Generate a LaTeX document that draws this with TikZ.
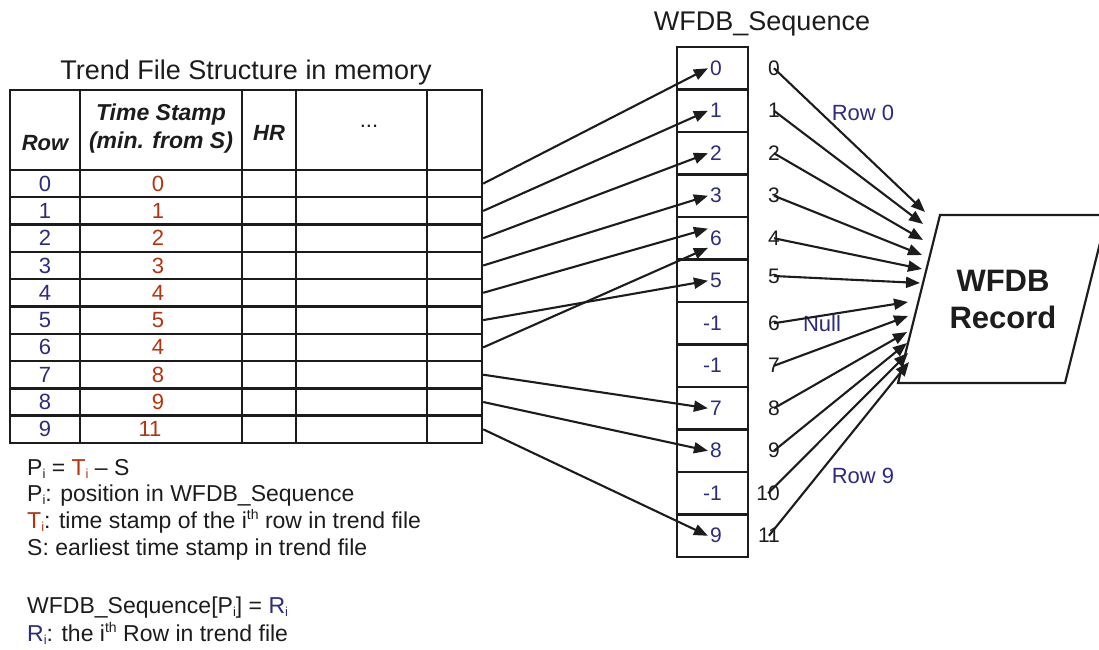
\documentclass[tikz,border=0pt]{standalone}
\usepackage{fontspec}
\setmainfont{Liberation Sans}
\usepackage{xcolor}
\usepackage{tikz}
\usetikzlibrary{arrows.meta,calc,positioning}
\definecolor{ink}{HTML}{1C1C1C}
\definecolor{navy}{HTML}{2B2B80}
\definecolor{rust}{HTML}{B5340F}
\newcommand{\subi}{\raisebox{-0.3ex}{\fontsize{13}{13}\selectfont i}}
\newcommand{\supth}{\raisebox{0.7ex}{\fontsize{14}{14}\selectfont th}}

\begin{document}
\begin{tikzpicture}[x=1pt,y=-1pt,>={Triangle[length=14pt,width=11pt]},color=ink,
  rowbox/.style={draw,line width=2.4pt,minimum width=472pt,minimum height=27.3pt,inner sep=0pt},
  rownum/.style={text=navy,font=\fontsize{22}{26}\selectfont},
  stamp/.style={text=rust,font=\fontsize{22}{26}\selectfont},
  seqcell/.style={draw,line width=2.2pt,minimum width=71pt,minimum height=42.5pt,inner sep=0pt},
  seqval/.style={anchor=east,text=navy,inner sep=2pt,font=\fontsize{21}{25}\selectfont},
  idx/.style={anchor=east,inner sep=1pt,font=\fontsize{21}{25}\selectfont},
  note/.style={anchor=base west,inner sep=0pt,font=\fontsize{23}{27}\selectfont},
  link/.style={->,line width=2.1pt}]
\useasboundingbox (0,0) rectangle (1099,649);

% trend file table
\node[font=\fontsize{27}{32}\selectfont] (trendtitle) at (246,73) {Trend File Structure in memory};
\node[draw,line width=2.4pt,minimum width=472pt,minimum height=80pt,inner sep=0pt] (head) at (246,130) {};
\node[font=\bfseries\itshape\fontsize{22}{26}\selectfont] (hrow) at (45,143) {Row};
\node[font=\bfseries\itshape\fontsize{23}{28}\selectfont,align=center] (hstamp) at (161,129) {Time Stamp\\(min. from S)};
\node[font=\bfseries\itshape\fontsize{22}{26}\selectfont] (hhr) at (269,133) {HR};
\node[font=\fontsize{22}{26}\selectfont] (hdots) at (369,126) {...};
\node[rowbox] (r0) at (246,183.6) {};
\node[rowbox] (r1) at (246,210.9) {};
\node[rowbox] (r2) at (246,238.2) {};
\node[rowbox] (r3) at (246,265.5) {};
\node[rowbox] (r4) at (246,292.8) {};
\node[rowbox] (r5) at (246,320.1) {};
\node[rowbox] (r6) at (246,347.4) {};
\node[rowbox] (r7) at (246,374.7) {};
\node[rowbox] (r8) at (246,402.0) {};
\node[rowbox] (r9) at (246,429.3) {};
\draw[line width=2.4pt] (80,90) -- (80,443) (242,90) -- (242,443) (296,90) -- (296,443) (427,90) -- (427,443);
\node[rownum] at (45,183.6) {0};  \node[stamp] at (158,183.6) {0};
\node[rownum] at (45,210.9) {1};  \node[stamp] at (158,210.9) {1};
\node[rownum] at (45,238.2) {2};  \node[stamp] at (158,238.2) {2};
\node[rownum] at (45,265.5) {3};  \node[stamp] at (158,265.5) {3};
\node[rownum] at (45,292.8) {4};  \node[stamp] at (158,292.8) {4};
\node[rownum] at (45,320.1) {5};  \node[stamp] at (158,320.1) {5};
\node[rownum] at (45,347.4) {6};  \node[stamp] at (158,347.4) {4};
\node[rownum] at (45,374.7) {7};  \node[stamp] at (158,374.7) {8};
\node[rownum] at (45,402.0) {8};  \node[stamp] at (158,402.0) {9};
\node[rownum] at (45,429.3) {9};  \node[stamp] at (150,429.3) {11};

% sequence column
\node[font=\fontsize{27}{32}\selectfont] (seqtitle) at (762,24) {WFDB\_Sequence};
\node[seqcell] (c0) at (712.5,68.25) {};   \node[seqval] (v0) at (724,68.25) {0};   \node[idx] (i0) at (781,68.25) {0};
\node[seqcell] (c1) at (712.5,110.75) {};  \node[seqval] (v1) at (724,110.75) {1};  \node[idx] (i1) at (781,110.75) {1};
\node[seqcell] (c2) at (712.5,153.25) {};  \node[seqval] (v2) at (724,153.25) {2};  \node[idx] (i2) at (781,153.25) {2};
\node[seqcell] (c3) at (712.5,195.75) {};  \node[seqval] (v3) at (724,195.75) {3};  \node[idx] (i3) at (781,195.75) {3};
\node[seqcell] (c4) at (712.5,238.25) {};  \node[seqval] (v4) at (724,238.25) {6};  \node[idx] (i4) at (781,238.25) {4};
\node[seqcell] (c5) at (712.5,280.75) {};  \node[seqval] (v5) at (724,280.75) {5};  \node[idx] (i5) at (781,276) {5};
\node[seqcell] (c6) at (712.5,323.25) {};  \node[seqval] (v6) at (724,323.25) {-1}; \node[idx] (i6) at (781,323.25) {6};
\node[seqcell] (c7) at (712.5,365.75) {};  \node[seqval] (v7) at (724,365.75) {-1}; \node[idx] (i7) at (781,365.75) {7};
\node[seqcell] (c8) at (712.5,408.25) {};  \node[seqval] (v8) at (724,408.25) {7};  \node[idx] (i8) at (781,408.25) {8};
\node[seqcell] (c9) at (712.5,450.75) {};  \node[seqval] (v9) at (724,450.75) {8};  \node[idx] (i9) at (781,450.75) {9};
\node[seqcell] (c10) at (712.5,493.25) {}; \node[seqval] (v10) at (724,493.25) {-1}; \node[idx] (i10) at (781,493.25) {10};
\node[seqcell] (c11) at (712.5,535.75) {}; \node[seqval] (v11) at (724,535.75) {9};  \node[idx] (i11) at (781,535.75) {11};

% record
\draw[line width=2.2pt] (898,383) -- (940,215) -- (1107,215) -- (1065,383) -- cycle;
\node[font=\bfseries\fontsize{31}{37}\selectfont,align=center] (rec) at (1003,299) {WFDB\\Record};
\coordinate (t0) at (925,212);
\coordinate (t1) at (923,224);
\coordinate (t2) at (923,240);
\coordinate (t3) at (922,255);
\coordinate (t4) at (922,269);
\coordinate (t5) at (920,283);
\coordinate (t6) at (908,302);
\coordinate (t7) at (908,316);
\coordinate (t8) at (907,332);
\coordinate (t9) at (907,343);
\coordinate (t10) at (908,353);
\coordinate (t11) at (909,362);
\node[text=navy,font=\fontsize{22}{26}\selectfont] (row0) at (863,113) {Row 0};
\node[text=navy,font=\fontsize{22}{26}\selectfont] (nulllbl) at (822,324) {Null};
\node[text=navy,font=\fontsize{22}{26}\selectfont] (row9) at (863,476) {Row 9};

% rows to sequence
\draw[link] (r0.east) -- (v0.west);
\draw[link] (r1.east) -- (v1.west);
\draw[link] (r2.east) -- (v2.west);
\draw[link] (r3.east) -- (v3.west);
\draw[link] (r4.east) -- (v4.north west);
\draw[link] (r5.east) -- (v5.west);
\draw[link] (r6.east) -- (v4.south west);
\draw[link] (r7.east) -- (v8.west);
\draw[link] (r8.east) -- (v9.west);
\draw[link] (r9.east) -- (v11.west);

% sequence to record
\draw[link] (i0.center) -- (t0);
\draw[link] (i1.center) -- (t1);
\draw[link] (i2.center) -- (t2);
\draw[link] (i3.center) -- (t3);
\draw[link] (i4.center) -- (t4);
\draw[link] (i5.center) -- (t5);
\draw[link] (i6.center) -- (t6);
\draw[link] (i7.center) -- (t7);
\draw[link] (i8.center) -- (t8);
\draw[link] (i9.center) -- (t9);
\draw[link] (i10.center) -- (t10);
\draw[link] (i11.center) -- (t11);

% notes
\node[note] (n1) at (27,475) {P\subi{} = \textcolor{rust}{T\subi} -- S};
\node[note] (n2) at (27,501) {P\subi: position in WFDB\_Sequence};
\node[note] (n3) at (27,528) {\textcolor{rust}{T\subi}: time stamp of the i\supth{} row in trend file};
\node[note] (n4) at (27,555) {S: earliest time stamp in trend file};
\node[note] (n5) at (27,613) {WFDB\_Sequence[P\subi] = \textcolor{navy}{R\subi}};
\node[note] (n6) at (27,641) {\textcolor{navy}{R\subi}: the i\supth{} Row in trend file};
\end{tikzpicture}
\end{document}
